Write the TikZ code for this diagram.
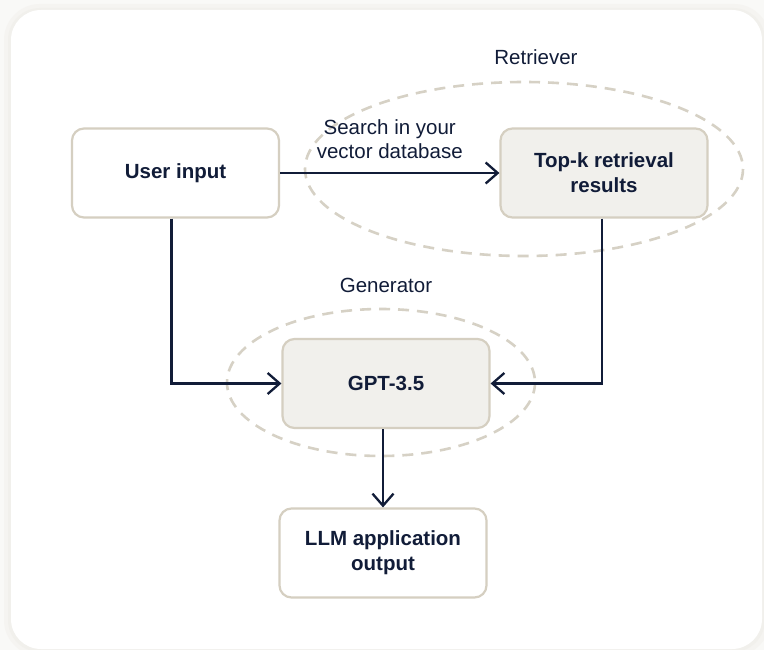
\documentclass[tikz,border=0pt]{standalone}
\usepackage{fontspec}
\setmainfont{Liberation Sans}
\usetikzlibrary{arrows.meta,shapes.geometric}
\definecolor{ink}{HTML}{111C38}
\definecolor{beige}{HTML}{D5CFC1}
\definecolor{boxfill}{HTML}{F1F0EC}
\definecolor{dashc}{HTML}{D6D1C5}
\definecolor{outerbg}{HTML}{F9F9F7}
\definecolor{shadea}{HTML}{F5F4F1}
\definecolor{shadeb}{HTML}{F1F0EC}
\tikzset{
  box/.style={draw=beige, line width=2.2pt, rounded corners=12pt, minimum width=207pt, minimum height=89pt, align=center, text=ink, font=\fontsize{20.5}{25}\selectfont\bfseries, inner sep=0pt},
  filledbox/.style={box, fill=boxfill},
  plainbox/.style={box, fill=white},
  group/.style={draw=dashc, line width=2.6pt, dash pattern=on 11pt off 8pt},
  lbl/.style={text=ink, font=\fontsize{20.5}{24}\selectfont, align=center, inner sep=0pt},
  conn/.style={draw=ink, line width=2.3pt, -{Straight Barb[length=12pt,width=21pt,line width=2.3pt]}},
}
\begin{document}
\begin{tikzpicture}[x=1pt,y=-1pt]
\useasboundingbox (0,0) rectangle (764,650);
\fill[outerbg] (0,0) rectangle (764,650);
% soft shadow
\fill[shadea, rounded corners=36pt] (4,4) rectangle (770,656);
\fill[shadeb, rounded corners=32pt] (8,8) rectangle (765,652);
\fill[white, rounded corners=30pt] (11,10) rectangle (762,649);

% dashed groups
\draw[group] (524,169) ellipse [x radius=219, y radius=87];
\draw[group] (381,382.5) ellipse [x radius=154, y radius=73.5];

% labels of groups
\node[lbl] (retr) at (536,57) {Retriever};
\node[lbl] (gen) at (386,285) {Generator};

% boxes
\node[plainbox] (user) at (175.5,173) {User input};
\node[filledbox] (topk) at (604,173) {Top-k retrieval\\results};
\node[filledbox] (gpt) at (386,383.5) {GPT-3.5};
\node[plainbox] (llm) at (383,553) {LLM application\\output};

% connectors
\draw[conn] (user.east) -- node[lbl, above=13pt] (search) {Search in your\\vector database} (topk.west);
\draw[conn] ([xshift=-4pt]user.south) |- (gpt.west);
\draw[conn] ([xshift=-2pt]topk.south) |- (gpt.east);
\draw[conn] (llm.north |- gpt.south) -- (llm.north);
\end{tikzpicture}
\end{document}
